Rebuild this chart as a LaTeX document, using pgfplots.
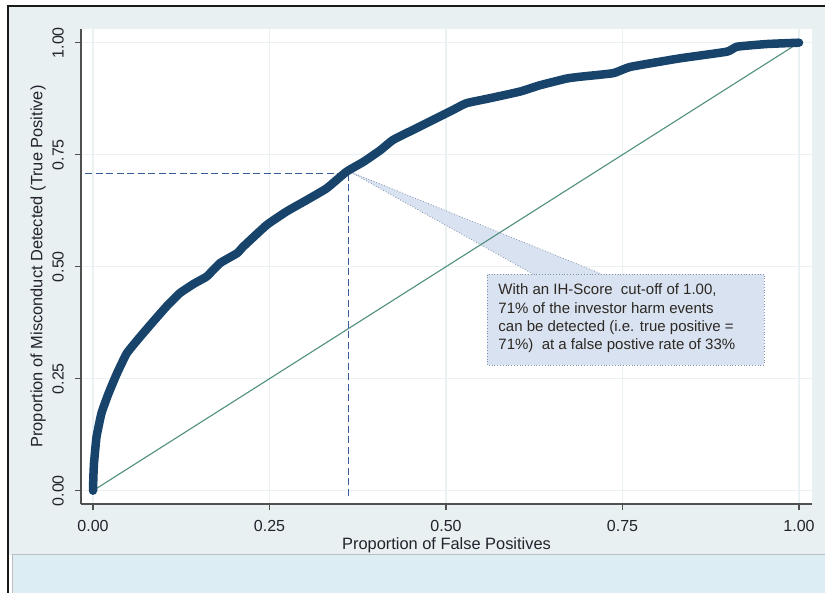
\documentclass[border=0pt]{standalone}
\usepackage{pgfplots}
\pgfplotsset{compat=1.18}
\usepackage{fontspec}
\setmainfont{Liberation Sans}
\definecolor{framebg}{RGB}{232,240,242}
\definecolor{panelbg}{RGB}{220,237,243}
\definecolor{panelline}{RGB}{185,192,196}
\definecolor{axisgray}{RGB}{80,80,80}
\definecolor{gridc}{RGB}{234,241,243}
\definecolor{labc}{RGB}{35,35,45}
\definecolor{curvec}{RGB}{24,68,108}
\definecolor{diagc}{RGB}{80,143,125}
\definecolor{dashc}{RGB}{55,92,152}
\definecolor{callfill}{RGB}{216,226,240}
\definecolor{callline}{RGB}{130,145,170}
\definecolor{calltext}{RGB}{45,40,35}
\begin{document}
\begin{tikzpicture}[x=1pt,y=1pt]
\useasboundingbox (0,0) rectangle (825,593);
\fill[white] (0,0) rectangle (825,593);
\fill[framebg] (8,38) rectangle (825,587);
\fill[panelbg] (12.7,0) rectangle (825,38);
\draw[panelline, line width=1pt] (12.7,0) -- (12.7,38) -- (825,38);
\draw[black!90, line width=1.6pt] (8,0) -- (8,587) -- (825,587);
\begin{axis}[
  at={(81pt,89pt)}, anchor=south west,
  scale only axis, width=731pt, height=475pt,
  xmin=-0.017, xmax=1.0184, ymin=-0.0297, ymax=1.0306,
  axis x line*=bottom, axis y line*=left,
  axis line style={draw=axisgray, line width=1.2pt, -},
  axis background/.style={fill=white},
  xtick={0,0.25,0.5,0.75,1}, ytick={0,0.25,0.5,0.75,1},
  xticklabels={0.00,0.25,0.50,0.75,1.00},
  yticklabels={0.00,0.25,0.50,0.75,1.00},
  tick align=outside, major tick length=6pt,
  tick style={draw=axisgray, line width=1.2pt},
  xmajorgrids, ymajorgrids,
  grid style={draw=gridc, line width=1.3pt},
  ticklabel style={font=\fontsize{16}{16}\selectfont, text=labc, inner sep=0pt},
  xticklabel style={anchor=north},
  yticklabel style={rotate=90, anchor=south},
  xticklabel shift=10pt, yticklabel shift=11pt,
  xlabel={Proportion of False Positives},
  ylabel={Proportion of Misconduct Detected (True Positive)},
  label style={font=\fontsize{16.4}{16.4}\selectfont, text=labc},
  xlabel style={at={(axis description cs:0.5,-0.0865)}, anchor=center},
  ylabel style={at={(axis description cs:-0.0588,0.5)}, anchor=center},
]
% callout
\fill[callfill] (axis cs:0.364,0.712) -- (axis cs:0.7205,0.4837) -- (axis cs:0.6232,0.4837) -- cycle;
\draw[callline, line width=0.8pt, dotted] (axis cs:0.6232,0.4837) -- (axis cs:0.364,0.712) -- (axis cs:0.7205,0.4837);
\draw[callline, line width=0.8pt, dotted, fill=callfill] (axis cs:0.5585,0.2806) rectangle (axis cs:0.9508,0.4837);
\node[anchor=north west, align=left, inner sep=0pt, font=\fontsize{15}{18.3}\selectfont, text=calltext] at (axis cs:0.574,0.462)
 {With an IH-Score\ \ cut-off of 1.00,\\71\% of the investor harm events\\can be detected (i.e. true positive =\\71\%)\ \ at a false postive rate of 33\%};
% diagonal
\addplot[diagc, line width=1.1pt] coordinates {(0,0) (1,1)};
% dashed guides
\addplot[dashc, line width=1.8pt, dash pattern=on 7pt off 3.5pt] coordinates {(-0.011,0.708) (0.362,0.708)};
\addplot[dashc, line width=1.8pt, dash pattern=on 7pt off 3.5pt] coordinates {(0.362,0.708) (0.362,-0.0185)};
% ROC curve
\addplot[curvec, line width=8.5pt, line cap=round, line join=round, smooth, tension=0.25] coordinates {
(0,0) (0.0005,0.03) (0.0014,0.061) (0.005,0.12) (0.012,0.173) (0.022,0.217)
(0.034,0.262) (0.048,0.307) (0.067,0.344) (0.085,0.377) (0.104,0.411)
(0.123,0.441) (0.144,0.463) (0.161,0.478) (0.18,0.508) (0.204,0.53)
(0.213,0.545) (0.246,0.593) (0.274,0.623) (0.303,0.649) (0.331,0.675)
(0.359,0.712) (0.383,0.734) (0.407,0.76) (0.425,0.783) (0.458,0.809)
(0.491,0.835) (0.51,0.85) (0.529,0.865) (0.562,0.876) (0.605,0.891)
(0.633,0.905) (0.671,0.92) (0.69,0.924) (0.737,0.932) (0.761,0.946)
(0.831,0.965) (0.898,0.98) (0.912,0.991) (0.954,0.997) (1,1)};
\end{axis}
\end{tikzpicture}
\end{document}
